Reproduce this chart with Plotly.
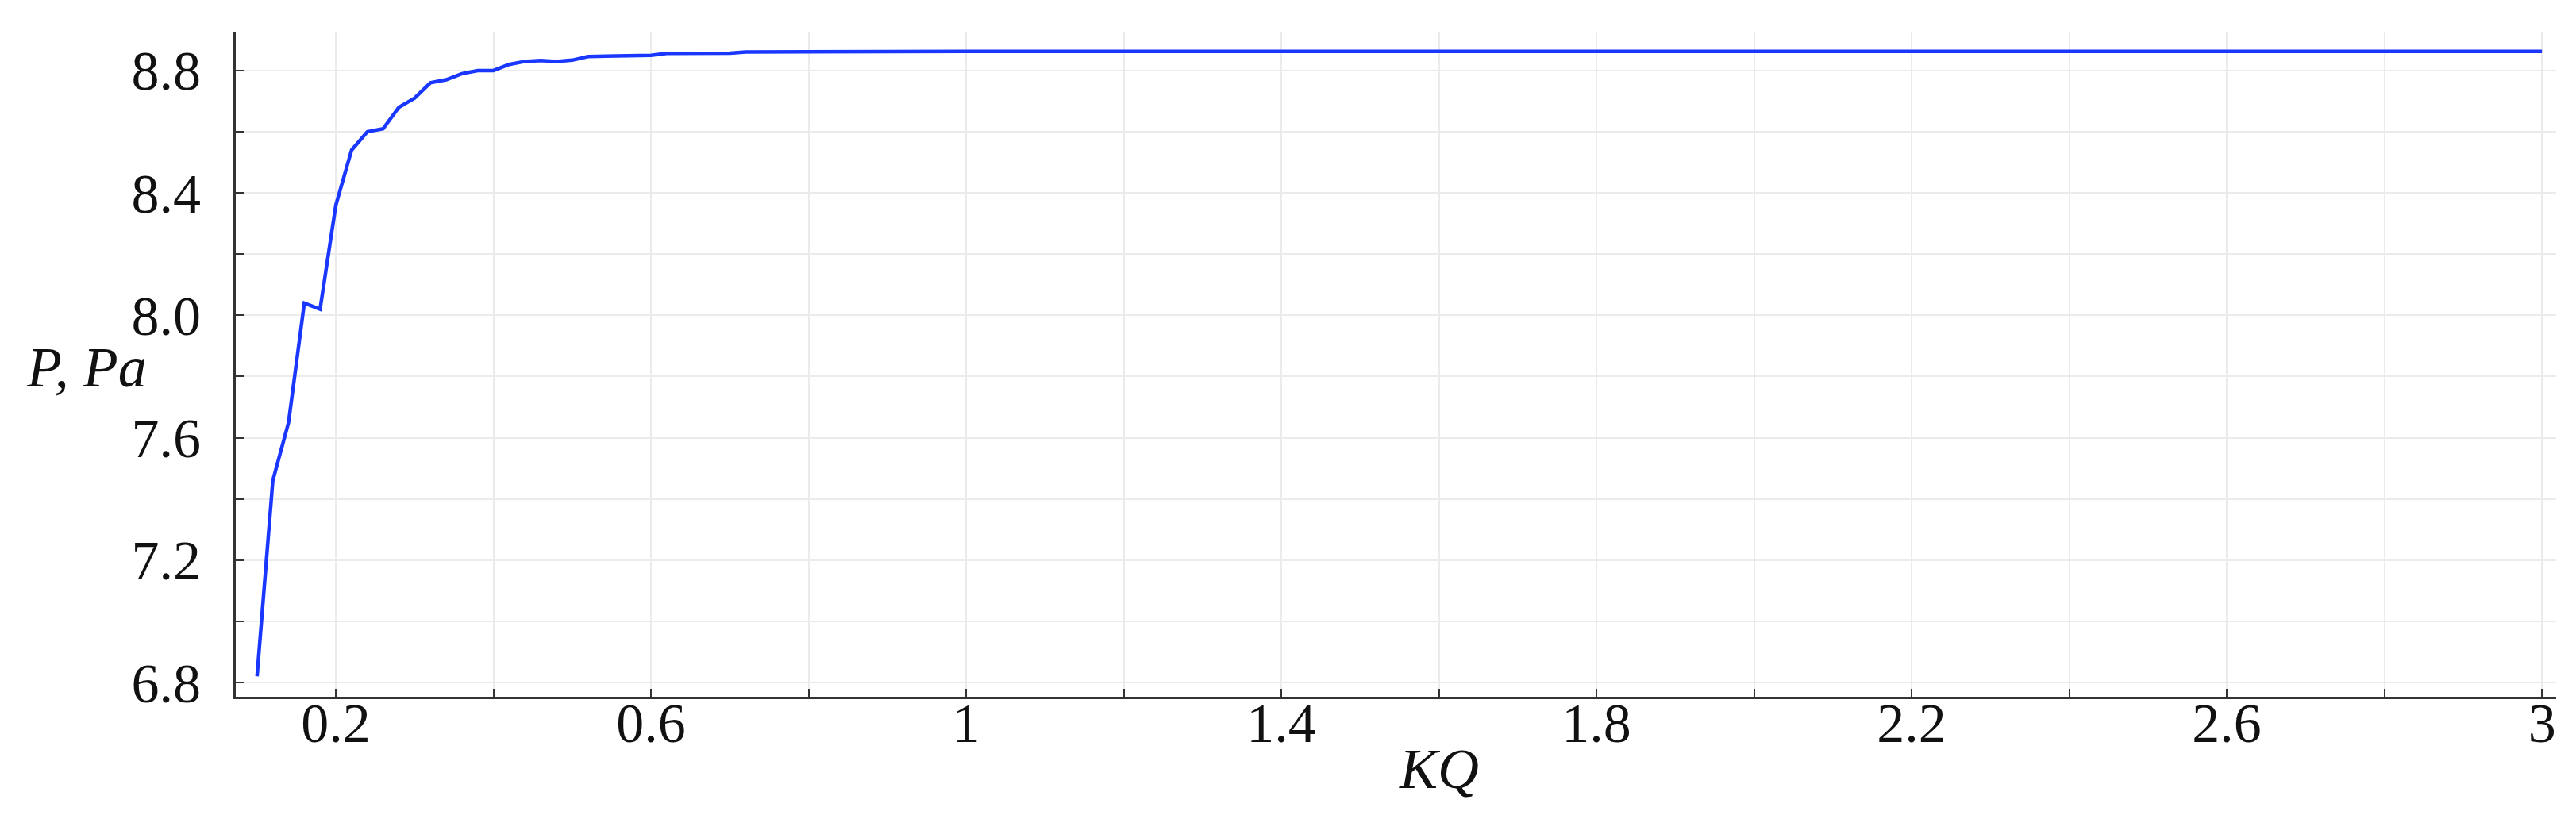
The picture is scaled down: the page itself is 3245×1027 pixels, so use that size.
import plotly.graph_objects as go

# ── data ─────────────────────────────────────────────────────────────────────
kq = [0.10, 0.12, 0.14, 0.16, 0.18, 0.20, 0.21, 0.22, 0.24, 0.26, 0.28, 0.30,
      0.32, 0.34, 0.36, 0.38, 0.40, 0.42, 0.44, 0.46, 0.48, 0.50, 0.52, 0.56,
      0.60, 0.62, 0.70, 0.72, 0.80, 1.00, 1.50, 2.00, 2.50, 3.00]
p_pa = [6.82, 7.46, 7.65, 8.04, 8.02, 8.36, 8.45, 8.54, 8.60, 8.61, 8.68, 8.71,
        8.76, 8.77, 8.79, 8.80, 8.80, 8.82, 8.83, 8.833, 8.830, 8.834, 8.846, 8.848,
        8.850, 8.856, 8.857, 8.861, 8.862, 8.863, 8.863, 8.863, 8.863, 8.863]

x_tickvals = [0.2, 0.4, 0.6, 0.8, 1.0, 1.2, 1.4, 1.6, 1.8, 2.0, 2.2, 2.4, 2.6, 2.8, 3.0]
x_ticktext = ["0.2", "", "0.6", "", "1", "", "1.4", "", "1.8", "", "2.2", "", "2.6", "", "3"]
y_tickvals = [6.8, 7.0, 7.2, 7.4, 7.6, 7.8, 8.0, 8.2, 8.4, 8.6, 8.8]
y_ticktext = ["6.8", "", "7.2", "", "7.6", "", "8.0", "", "8.4", "", "8.8"]

W, H = 3245, 1027
FONT = "Liberation Serif"
GRID = "#ebebeb"
AXIS = "#333333"

fig = go.Figure()
fig.add_trace(go.Scatter(
    x=kq, y=p_pa,
    mode="lines",
    line=dict(color="rgb(25,55,255)", width=4.5),
    showlegend=False,
))

fig.update_layout(
    width=W, height=H,
    paper_bgcolor="#ffffff",
    plot_bgcolor="#ffffff",
    font=dict(family=FONT, size=70, color="#111111"),
    margin=dict(l=289, r=33, t=32, b=157),
    showlegend=False,
)

fig.update_xaxes(
    range=[0.073, 3.018],
    tickmode="array", tickvals=x_tickvals, ticktext=x_ticktext,
    ticks="inside", ticklen=10, tickwidth=2, tickcolor=AXIS,
    showline=True, linecolor=AXIS, linewidth=3,
    showgrid=True, gridcolor=GRID, gridwidth=2,
    zeroline=False,
    tickfont=dict(family=FONT, size=70, color="#111111"),
    ticklabelstandoff=-30,
)
fig.update_yaxes(
    range=[6.7533, 8.927],
    tickmode="array", tickvals=y_tickvals, ticktext=y_ticktext,
    ticks="inside", ticklen=10, tickwidth=2, tickcolor=AXIS,
    showline=True, linecolor=AXIS, linewidth=3,
    showgrid=True, gridcolor=GRID, gridwidth=2,
    zeroline=False,
    tickfont=dict(family=FONT, size=70, color="#111111"),
    ticklabelstandoff=27,
)

# axis titles, horizontal as in the reference
fig.add_annotation(
    text="<i>P, Pa</i>", xref="paper", yref="y",
    x=-0.0376, y=7.83, xanchor="right", yanchor="middle",
    showarrow=False, font=dict(family=FONT, size=72, color="#111111"),
)
fig.add_annotation(
    text="<i>KQ</i>", xref="x", yref="paper",
    x=1.6, y=-0.108, xanchor="center", yanchor="middle",
    showarrow=False, font=dict(family=FONT, size=72, color="#111111"),
)

fig.write_html("out.html")
